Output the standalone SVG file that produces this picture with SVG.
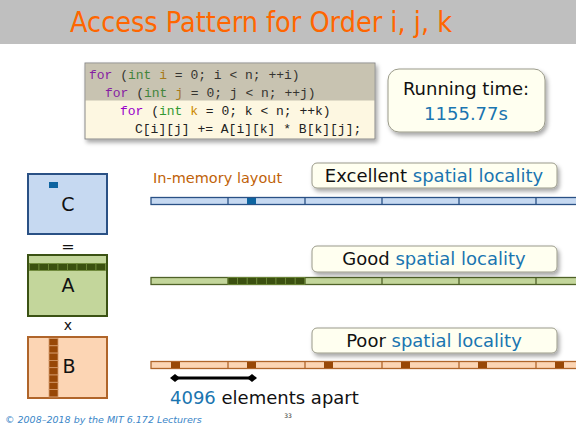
<svg xmlns="http://www.w3.org/2000/svg" width="576" height="427" viewBox="0 0 576 427">
<style>
.sans{font-family:"DejaVu Sans","Liberation Sans",sans-serif}
.mono{font-family:"Liberation Mono","DejaVu Sans Mono",monospace;font-size:13px;fill:#222}
.kw{fill:#9900cc}.ty{fill:#339933}.vr{fill:#cc8800}
.blue{fill:#1a75b0}
.call{fill:#fffff0;stroke:#9a9a8a;stroke-width:1}
</style>
<defs>
<filter id="sh" x="-10%" y="-20%" width="130%" height="160%">
<feDropShadow dx="2" dy="3" stdDeviation="2" flood-color="#000" flood-opacity="0.35"/>
</filter>
</defs>
<rect x="0" y="0" width="576" height="427" fill="#fff"/>
<g id="title">
<rect x="0" y="0" width="576" height="44" fill="#bfbfbf"/>
<text x="261" y="32" class="sans" font-size="28" fill="#ff6600" text-anchor="middle" textLength="382" lengthAdjust="spacingAndGlyphs">Access Pattern for Order i, j, k</text>
</g>
<g id="code">
<rect x="85" y="63" width="290" height="76" fill="#fdf7e1" stroke="#8a8a8a" stroke-width="1" filter="url(#sh)"/>
<text class="mono" x="89" y="79"><tspan class="kw">for</tspan> (<tspan class="ty">int</tspan> <tspan class="vr">i</tspan> = 0; i &lt; n; ++i)</text>
<text class="mono" x="105" y="97"><tspan class="kw">for</tspan> (<tspan class="ty">int</tspan> <tspan class="vr">j</tspan> = 0; j &lt; n; ++j)</text>
<text class="mono" x="120" y="115"><tspan class="kw">for</tspan> (<tspan class="ty">int</tspan> <tspan class="vr">k</tspan> = 0; k &lt; n; ++k)</text>
<text class="mono" x="135" y="133">C[i][j] += A[i][k] * B[k][j];</text>
<rect x="85.5" y="63.5" width="289" height="37" fill="#5f5a4e" opacity="0.33"/>
</g>
<g id="running-time">
<rect x="388" y="69" width="157" height="63" rx="11" class="call" filter="url(#sh)"/>
<text x="466" y="95" class="sans" font-size="18" fill="#111" text-anchor="middle">Running time:</text>
<text x="466" y="120" class="sans blue" font-size="18" text-anchor="middle">1155.77s</text>
</g>
<g id="matrix-C">
<rect x="28" y="174" width="79" height="60" fill="#c6d9f1" stroke="#2a5185" stroke-width="2"/>
<rect x="49" y="182" width="9" height="6" fill="#0e64a0"/>
<text x="68" y="211" class="sans" font-size="19" fill="#111" text-anchor="middle">C</text>
</g>
<text x="68" y="252" class="sans" font-size="16" fill="#111" text-anchor="middle">=</text>
<g id="matrix-A">
<rect x="28" y="255" width="79" height="61" fill="#c3d69b" stroke="#3b5214" stroke-width="2"/>
<g fill="#3b5010" stroke="#6f8a3a" stroke-width="0.8">
<rect x="29.5" y="263.5" width="9.5" height="7"/><rect x="39" y="263.5" width="9.5" height="7"/><rect x="48.5" y="263.5" width="9.5" height="7"/><rect x="58" y="263.5" width="9.5" height="7"/><rect x="67.5" y="263.5" width="9.5" height="7"/><rect x="77" y="263.5" width="9.5" height="7"/><rect x="86.5" y="263.5" width="9.5" height="7"/><rect x="96" y="263.5" width="9.5" height="7"/>
</g>
<text x="68" y="292" class="sans" font-size="19" fill="#111" text-anchor="middle">A</text>
</g>
<text x="68" y="330" class="sans" font-size="14" fill="#111" text-anchor="middle">x</text>
<g id="matrix-B">
<rect x="28" y="337" width="79" height="61" fill="#fcd5b4" stroke="#b0652a" stroke-width="2"/>
<g fill="#984807" stroke="#d49a6a" stroke-width="0.8">
<rect x="49" y="338.5" width="9" height="7.3"/><rect x="49" y="345.8" width="9" height="7.3"/><rect x="49" y="353.1" width="9" height="7.3"/><rect x="49" y="360.4" width="9" height="7.3"/><rect x="49" y="367.7" width="9" height="7.3"/><rect x="49" y="375" width="9" height="7.3"/><rect x="49" y="382.3" width="9" height="7.3"/><rect x="49" y="389.6" width="9" height="7.3"/>
</g>
<text x="69" y="373" class="sans" font-size="19" fill="#111" text-anchor="middle">B</text>
</g>
<text x="153" y="183" class="sans" font-size="14.5" fill="#bf6208">In-memory layout</text>
<g id="layout-C">
<rect x="151" y="197.5" width="430" height="7" fill="#c6d9f1" stroke="#2a5185" stroke-width="1.3"/>
<g stroke="#2a5185" stroke-width="1.3"><line x1="228" y1="197.5" x2="228" y2="204.5"/><line x1="305" y1="197.5" x2="305" y2="204.5"/><line x1="382" y1="197.5" x2="382" y2="204.5"/><line x1="459" y1="197.5" x2="459" y2="204.5"/><line x1="536" y1="197.5" x2="536" y2="204.5"/></g>
<rect x="247" y="198" width="9" height="6" fill="#0e64a0"/>
</g>
<g id="layout-A">
<rect x="151" y="277.5" width="430" height="7" fill="#c3d69b" stroke="#4f6228" stroke-width="1.3"/>
<g stroke="#4f6228" stroke-width="1.3"><line x1="228" y1="277.5" x2="228" y2="284.5"/><line x1="305" y1="277.5" x2="305" y2="284.5"/><line x1="382" y1="277.5" x2="382" y2="284.5"/><line x1="459" y1="277.5" x2="459" y2="284.5"/><line x1="536" y1="277.5" x2="536" y2="284.5"/></g>
<g fill="#3b5010" stroke="#6f8a3a" stroke-width="0.8">
<rect x="228" y="277.5" width="9.6" height="7"/><rect x="237.6" y="277.5" width="9.6" height="7"/><rect x="247.2" y="277.5" width="9.6" height="7"/><rect x="256.8" y="277.5" width="9.6" height="7"/><rect x="266.4" y="277.5" width="9.6" height="7"/><rect x="276" y="277.5" width="9.6" height="7"/><rect x="285.6" y="277.5" width="9.6" height="7"/><rect x="295.2" y="277.5" width="9.6" height="7"/>
</g>
</g>
<g id="layout-B">
<rect x="151" y="361.5" width="430" height="7" fill="#fcd5b4" stroke="#b0652a" stroke-width="1.3"/>
<g stroke="#b0652a" stroke-width="1.3"><line x1="228" y1="361.5" x2="228" y2="368.5"/><line x1="305" y1="361.5" x2="305" y2="368.5"/><line x1="382" y1="361.5" x2="382" y2="368.5"/><line x1="459" y1="361.5" x2="459" y2="368.5"/><line x1="536" y1="361.5" x2="536" y2="368.5"/></g>
<g fill="#984807">
<rect x="171" y="362" width="9" height="6"/><rect x="247" y="362" width="9" height="6"/><rect x="324" y="362" width="9" height="6"/><rect x="401" y="362" width="9" height="6"/><rect x="478" y="362" width="9" height="6"/><rect x="555" y="362" width="9" height="6"/>
</g>
</g>
<g id="callout-excellent">
<rect x="312" y="163" width="245" height="25" rx="5" class="call" filter="url(#sh)"/>
<text x="434" y="182" class="sans" font-size="18" fill="#111" text-anchor="middle">Excellent <tspan class="blue">spatial locality</tspan></text>
</g>
<g id="callout-good">
<rect x="312" y="246" width="245" height="26" rx="5" class="call" filter="url(#sh)"/>
<text x="434" y="265" class="sans" font-size="18" fill="#111" text-anchor="middle">Good <tspan class="blue">spatial locality</tspan></text>
</g>
<g id="callout-poor">
<rect x="312" y="328" width="245" height="25" rx="5" class="call" filter="url(#sh)"/>
<text x="434" y="347" class="sans" font-size="18" fill="#111" text-anchor="middle">Poor <tspan class="blue">spatial locality</tspan></text>
</g>
<g id="connectors">
<line x1="173" y1="378" x2="254" y2="378" stroke="#000" stroke-width="3"/>
<polygon points="170,378 175,374 180,378 175,382" fill="#000"/>
<polygon points="247,378 252,374 257,378 252,382" fill="#000"/>
</g>
<text x="170" y="404" class="sans" font-size="18" fill="#111"><tspan class="blue">4096</tspan> elements apart</text>
<text x="5" y="423" class="sans" font-size="9.5" font-style="italic" fill="#3a86c8">© 2008–2018 by the MIT 6.172 Lecturers</text>
<text x="288" y="418" class="sans" font-size="6" fill="#333" text-anchor="middle">33</text>
</svg>
